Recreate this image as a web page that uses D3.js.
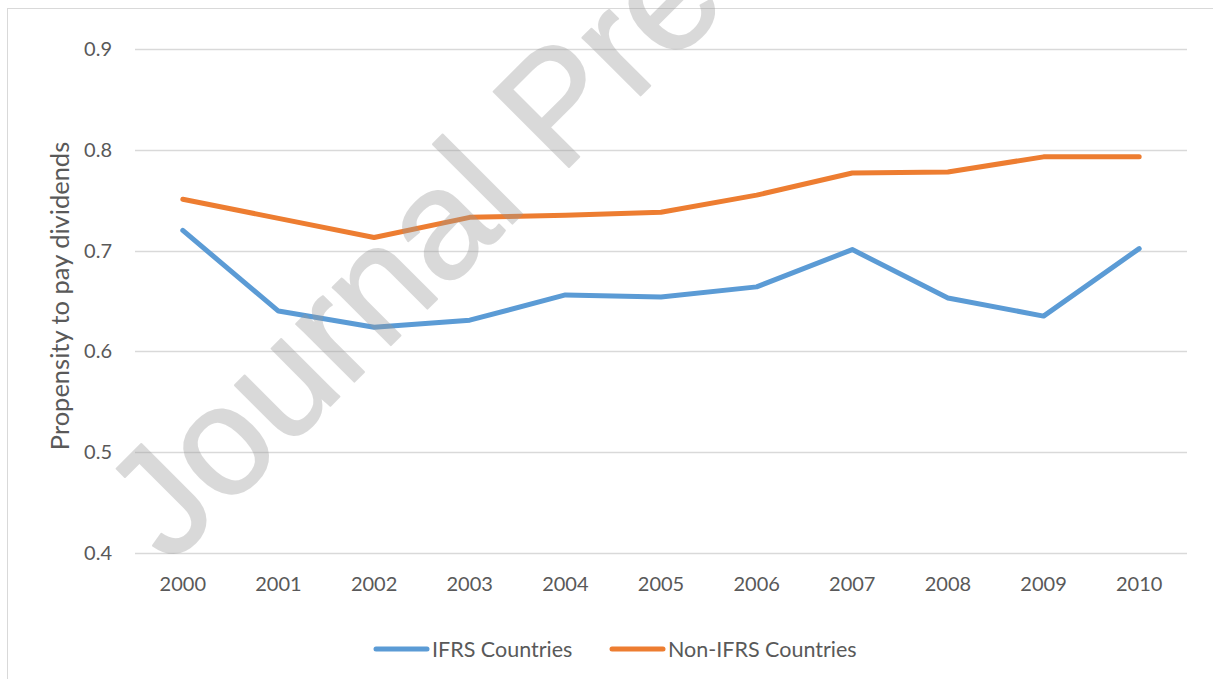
<!DOCTYPE html>
<html>
<head>
<meta charset="utf-8">
<script src="https://cdn.jsdelivr.net/npm/d3@7"></script>
<style>
  body { margin: 0; background: #fff; }
  svg text { font-family: Lato, "Open Sans", sans-serif; }
</style>
</head>
<body>
<div id="vis"></div>
<script>
// chart data
var years = ["2000", "2001", "2002", "2003", "2004", "2005", "2006", "2007", "2008", "2009", "2010"];
var ifrs = [0.720, 0.640, 0.624, 0.631, 0.656, 0.654, 0.664, 0.701, 0.653, 0.635, 0.702];
var nonIfrs = [0.751, 0.732, 0.713, 0.733, 0.735, 0.738, 0.755, 0.777, 0.778, 0.793, 0.793];
var yTicks = [0.4, 0.5, 0.6, 0.7, 0.8, 0.9];
var seriesNames = ["IFRS Countries", "Non-IFRS Countries"];
var seriesColors = ["#5b9bd5", "#ed7d31"];

var width = 1213, height = 679;
var margin = {top: 49, right: 26, bottom: 126, left: 135};

var svg = d3.select("#vis").append("svg")
    .attr("width", width)
    .attr("height", height);

// outer chart frame (cut off at right and bottom)
svg.append("rect")
    .attr("x", 7.5).attr("y", 8.5)
    .attr("width", width + 20).attr("height", height + 20)
    .attr("fill", "none")
    .attr("stroke", "#d9d9d9");

var x = d3.scaleBand()
    .domain(years)
    .range([margin.left, width - margin.right]);

var y = d3.scaleLinear()
    .domain([0.4, 0.9])
    .range([height - margin.bottom, margin.top]);

// gridlines
svg.append("g")
  .selectAll("line")
  .data(yTicks)
  .enter().append("line")
    .attr("x1", margin.left)
    .attr("x2", width - margin.right)
    .attr("y1", function(d) { return Math.round(y(d)) + 0.5; })
    .attr("y2", function(d) { return Math.round(y(d)) + 0.5; })
    .attr("stroke", "#d9d9d9")
    .attr("stroke-width", 1.5);

// y axis labels
var yAxis = svg.append("g")
    .attr("transform", "translate(" + margin.left + ",0)")
    .call(d3.axisLeft(y).tickValues(yTicks).tickFormat(d3.format(".1f")).tickSize(0).tickPadding(23));
yAxis.select(".domain").remove();
yAxis.selectAll("text")
    .attr("fill", "#595959")
    .style("font-size", "20px");

// x axis labels
var xAxis = svg.append("g")
    .attr("transform", "translate(0," + (height - margin.bottom) + ")")
    .call(d3.axisBottom(x).tickSize(0).tickPadding(24));
xAxis.select(".domain").remove();
xAxis.selectAll("text")
    .attr("fill", "#595959")
    .style("font-size", "20px");

// y axis title
svg.append("text")
    .attr("transform", "translate(69," + 296 + ") rotate(-90)")
    .attr("text-anchor", "middle")
    .attr("fill", "#595959")
    .style("font-size", "25.5px")
    .text("Propensity to pay dividends");

// lines
var line = d3.line()
    .x(function(d, i) { return x(years[i]) + x.bandwidth() / 2; })
    .y(function(d) { return y(d); });

[ifrs, nonIfrs].forEach(function(vals, k) {
  svg.append("path")
      .datum(vals)
      .attr("d", line)
      .attr("fill", "none")
      .attr("stroke", seriesColors[k])
      .attr("stroke-width", 5)
      .attr("stroke-linejoin", "round")
      .attr("stroke-linecap", "round");
});

// legend
var legendX = [376, 612];
var legend = svg.append("g");
seriesNames.forEach(function(name, k) {
  legend.append("line")
      .attr("x1", legendX[k]).attr("x2", legendX[k] + 51)
      .attr("y1", 649).attr("y2", 649)
      .attr("stroke", seriesColors[k])
      .attr("stroke-width", 5)
      .attr("stroke-linecap", "round");
  legend.append("text")
      .attr("x", legendX[k] + 56)
      .attr("y", 656.5)
      .attr("fill", "#595959")
      .style("font-size", "21.5px")
      .text(name);
});

// diagonal watermark (sits over the lines, semi-transparent)
svg.append("g")
    .attr("opacity", 0.36)
  .append("text")
    .attr("transform", "translate(170,566) rotate(-45)")
    .attr("fill", "#999")
    .attr("stroke", "#999")
    .attr("stroke-width", 2)
    .attr("stroke-linejoin", "round")
    .style("font-family", "'Liberation Sans', Arial, sans-serif")
    .style("font-size", "155px")
    .text("Journal Pre-proof");
</script>
</body>
</html>
